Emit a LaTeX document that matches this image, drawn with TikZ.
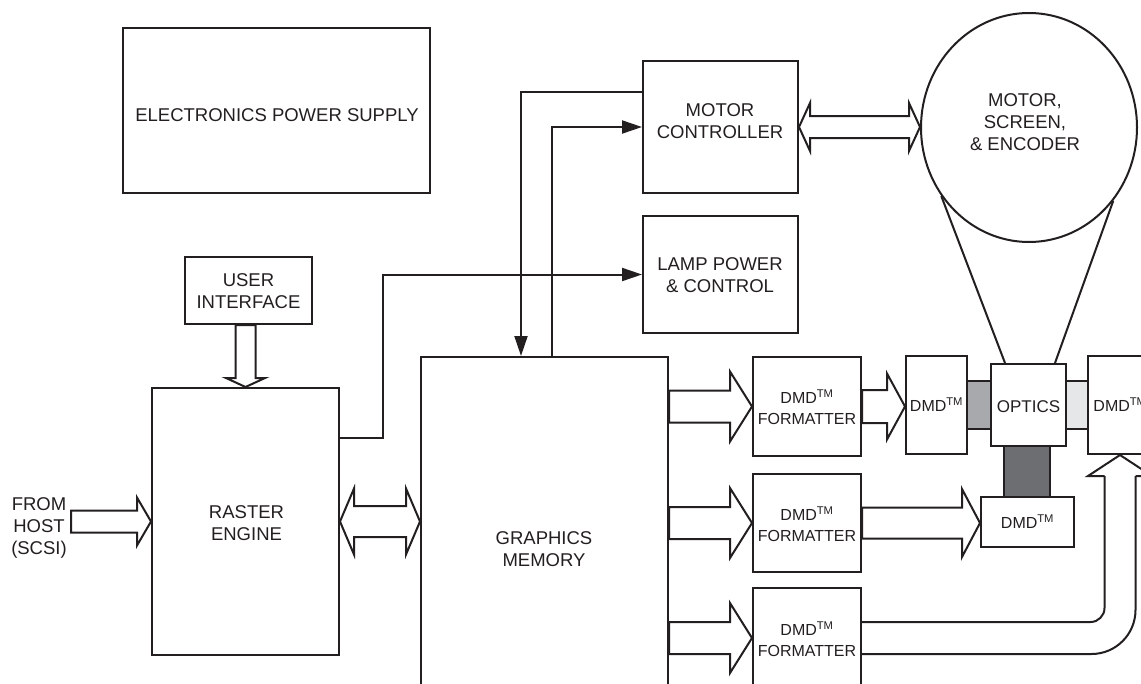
\documentclass[tikz,border=0pt]{standalone}
\usepackage{fontspec}
\setmainfont{Liberation Sans}
\usetikzlibrary{arrows.meta,calc,shapes.geometric}
\definecolor{ink}{HTML}{231F20}
\definecolor{gmid}{HTML}{A7A9AC}
\definecolor{glight}{HTML}{E6E7E8}
\definecolor{gdark}{HTML}{6D6E71}
% block arrow pointing right: #1 tail, #2 tip, #3 shaft half, #4 head half, #5 head length
\newcommand\rarr[5]{\draw[blk] let \p1=#1, \p2=#2 in (\x1,\y2+#3) -- (\x2-#5,\y2+#3) -- (\x2-#5,\y2+#4) -- (\x2,\y2) -- (\x2-#5,\y2-#4) -- (\x2-#5,\y2-#3) -- (\x1,\y2-#3) -- cycle;}
% double block arrow: #1 left tip, #2 right tip
\newcommand\lrarr[5]{\draw[blk] let \p1=#1, \p2=#2 in (\x1,\y1) -- (\x1+#5,\y1+#4) -- (\x1+#5,\y1+#3) -- (\x2-#5,\y1+#3) -- (\x2-#5,\y1+#4) -- (\x2,\y1) -- (\x2-#5,\y1-#4) -- (\x2-#5,\y1-#3) -- (\x1+#5,\y1-#3) -- (\x1+#5,\y1-#4) -- cycle;}
% block arrow pointing down: #1 tail, #2 tip
\newcommand\darr[5]{\draw[blk] let \p1=#1, \p2=#2 in (\x2+#3,\y1) -- (\x2+#3,\y2+#5) -- (\x2+#4,\y2+#5) -- (\x2,\y2) -- (\x2-#4,\y2+#5) -- (\x2-#3,\y2+#5) -- (\x2-#3,\y1) -- cycle;}
\begin{document}
\begin{tikzpicture}[x=1pt,y=-1pt,
  box/.style={draw=ink, line width=2pt, inner sep=0pt, fill=white},
  txt/.style={font=\fontsize{18.5}{22}\selectfont, text=ink, align=center, inner sep=0pt},
  smalltxt/.style={font=\fontsize{16}{21}\selectfont, text=ink, align=center, inner sep=0pt},
  ln/.style={draw=ink, line width=2pt},
  ar/.style={ln, -{Triangle[length=20pt,width=13pt]}},
  blk/.style={draw=ink, line width=2pt, fill=white, line join=miter}]
\useasboundingbox (0,0) rectangle (1141,683);
\clip (0,0) rectangle (1141,683);
\fill[white] (0,0) rectangle (1141,683);

% connectors between DMDs and optics
\node[box, fill=gmid, minimum width=24pt, minimum height=48pt] (c1) at (979,405) {};
\node[box, fill=glight, minimum width=22pt, minimum height=48pt] (c2) at (1077,405) {};
\node[box, fill=gdark, minimum width=46pt, minimum height=51pt] (c3) at (1027,471.5) {};

% boxes
\node[box, minimum width=307pt, minimum height=165pt] (eps) at (276.5,110.5) {};
\node[box, minimum width=155pt, minimum height=132pt] (mc) at (720.5,127) {};
\node[box, minimum width=155pt, minimum height=117pt] (lp) at (720.5,274.5) {};
\node[draw=ink, line width=2pt, ellipse, minimum width=216pt, minimum height=229pt, inner sep=0pt] (circ) at (1029,127.5) {};
\node[box, minimum width=127pt, minimum height=67pt] (ui) at (248.5,290.5) {};
\node[box, minimum width=187pt, minimum height=267pt] (re) at (245.5,521.5) {};
\node[box, minimum width=247pt, minimum height=400pt] (gm) at (544.5,557) {};
\node[box, minimum width=108pt, minimum height=99pt] (f1) at (807,406.5) {};
\node[box, minimum width=108pt, minimum height=98pt] (f2) at (807,523) {};
\node[box, minimum width=108pt, minimum height=100pt] (f3) at (807,638) {};
\node[box, minimum width=61pt, minimum height=98pt] (d1) at (936.5,405) {};
\node[box, minimum width=75pt, minimum height=82pt] (opt) at (1028.5,405) {};
\node[box, minimum width=64pt, minimum height=98pt] (dr) at (1120,405) {};
\node[box, minimum width=93pt, minimum height=50pt] (db) at (1027.5,522) {};

% texts
\node[txt] (teps) at (277,115) {ELECTRONICS POWER SUPPLY};
\node[txt] (tmc) at (720,121) {MOTOR\\CONTROLLER};
\node[txt] (tlp) at (720,275.5) {LAMP POWER\\\& CONTROL};
\node[txt] (tcirc) at (1025,122) {MOTOR,\\SCREEN,\\\& ENCODER};
\node[txt] (tui) at (248.5,291.5) {USER\\INTERFACE};
\node[txt] (tre) at (246.5,523.5) {RASTER\\ENGINE};
\node[txt] (tgm) at (544,549.5) {GRAPHICS\\MEMORY};
\node[txt] (thost) at (39,528) {FROM\\HOST\\(SCSI)};
\node[smalltxt] (tf1) at (807,407.5) {DMD\textsuperscript{TM}\\FORMATTER};
\node[smalltxt] (tf2) at (807,524) {DMD\textsuperscript{TM}\\FORMATTER};
\node[smalltxt] (tf3) at (807,639) {DMD\textsuperscript{TM}\\FORMATTER};
\node[smalltxt] (td1) at (936.5,405) {DMD\textsuperscript{TM}};
\node[txt, font=\fontsize{17}{21}\selectfont] (topt) at (1028.5,407) {OPTICS};
\node[smalltxt] (tdr) at (1120,405) {DMD\textsuperscript{TM}};
\node[smalltxt] (tdb) at (1027.5,522) {DMD\textsuperscript{TM}};

% projection cone
\draw[ln] (circ.218) -- ($(opt.north west)+(15,0)$);
\draw[ln] (circ.319) -- ($(opt.north east)+(-12,0)$);

% signal lines
\draw[ar] ($(mc.north west)+(0,32)$) -| ($(gm.north west)+(101,0)$);
\draw[ar] ($(gm.north west)+(132,0)$) |- ($(mc.north west)+(0,67)$);
\draw[ar] ($(re.north east)+(0,51)$) -- ++(43,0) |- (lp.west);

% block arrows
\lrarr{(mc.east)}{(circ.west|-mc.east)}{11pt}{24pt}{11pt}
\lrarr{(re.east)}{(gm.west|-re.east)}{15.5pt}{33pt}{14pt}
\rarr{($(re.west)+(-80,0)$)}{(re.west)}{11pt}{24pt}{14pt}
\darr{(ui.south-|re.north)}{(re.north)}{10pt}{19.5pt}{9pt}
\rarr{(gm.east|-f1.west)}{(f1.west)}{16pt}{35pt}{22pt}
\rarr{(gm.east|-f2.west)}{(f2.west)}{16pt}{35pt}{22pt}
\rarr{(gm.east|-f3.west)}{(f3.west)}{16pt}{35pt}{22pt}
\rarr{(f1.east)}{(d1.west|-f1.east)}{16.5pt}{33pt}{18pt}
\rarr{(f2.east)}{(db.west|-f2.east)}{15.5pt}{34pt}{18pt}

% curved block arrow from third formatter to right DMD
\draw[ln, rounded corners=14pt] let \p1=(f3.east), \p2=(dr.south) in (\x1,\y1+16pt) -| (\x2-15.5pt,\y2-21pt);
\draw[ln, line join=miter] let \p2=(dr.south) in (\x2-15.5pt,\y2-21pt) -- (\x2-32pt,\y2-21pt) -- (\x2,\y2) -- (\x2+32pt,\y2-21pt) -- (\x2+15.5pt,\y2-21pt);
\draw[ln, rounded corners=44pt] let \p1=(f3.east), \p2=(dr.south) in (\x2+15.5pt,\y2-21pt) |- (\x1,\y1-16pt);
\end{tikzpicture}
\end{document}
